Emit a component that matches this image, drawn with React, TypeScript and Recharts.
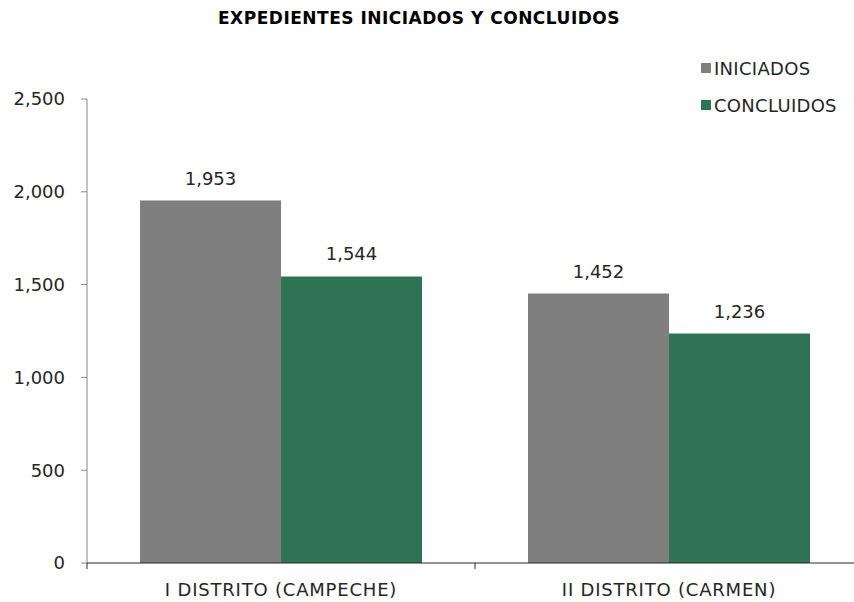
import { BarChart, Bar, XAxis, YAxis, LabelList } from 'recharts';

const categories = ['I DISTRITO (CAMPECHE)', 'II DISTRITO (CARMEN)'];
const iniciados = [1953, 1452];
const concluidos = [1544, 1236];
const yTicks = [0, 500, 1000, 1500, 2000, 2500];

const SERIES = [
  { key: 'iniciados', name: 'INICIADOS', color: '#7f7f7f' },
  { key: 'concluidos', name: 'CONCLUIDOS', color: '#2e7353' },
];

const data = categories.map((name, i) => ({
  name,
  iniciados: iniciados[i],
  concluidos: concluidos[i],
}));

const FONT = '"DejaVu Sans", sans-serif';
const fmt = (v: number) => v.toLocaleString('en-US');

// label in the middle of the band, tick line on the left edge of the band
const CategoryTick = (props: any) => {
  const { x, y, payload } = props;
  const half = payload?.offset ?? 194;
  return (
    <g>
      <line x1={x - half} x2={x - half} y1={y} y2={y + 6} stroke="#262626" />
      <text x={x} y={y + 33} textAnchor="middle" fill="#262626" fontSize={18} letterSpacing={0.8} fontFamily={FONT}>
        {payload.value}
      </text>
    </g>
  );
};

export default function App() {
  return (
    <div style={{ position: 'absolute', left: 0, top: 0, width: 854, height: 602, overflow: 'hidden', background: '#fff', fontFamily: FONT }}>
      <div style={{ position: 'absolute', left: 0, width: 838, top: 8, textAlign: 'center', fontWeight: 'bold', fontSize: 17, letterSpacing: 0.5, color: '#000' }}>
        EXPEDIENTES INICIADOS Y CONCLUIDOS
      </div>

      <div style={{ position: 'absolute', left: 701, top: 57, fontSize: 18, color: '#262626' }}>
        {SERIES.map((s, i) => (
          <div key={s.key} style={{ display: 'flex', alignItems: 'center', height: 22, marginBottom: i === 0 ? 15 : 0 }}>
            <span style={{ width: 10, height: 10, background: s.color, display: 'inline-block', marginRight: 3 }} />
            <span style={{ letterSpacing: 0.3 }}>{s.name}</span>
          </div>
        ))}
      </div>

      <BarChart
        width={870}
        height={602}
        data={data}
        margin={{ top: 99, right: 7, bottom: 0, left: 0 }}
        barCategoryGap={53}
        barGap={0}
        style={{ position: 'absolute', left: 0, top: 0 }}
      >
        <YAxis
          width={87}
          domain={[0, 2500]}
          ticks={yTicks}
          tickFormatter={fmt}
          axisLine={{ stroke: '#868686' }}
          tickLine={{ stroke: '#868686' }}
          tickSize={6}
          tickMargin={16}
          tick={{ fill: '#262626', fontSize: 18, fontFamily: FONT }}
        />
        <XAxis
          dataKey="name"
          height={39}
          axisLine={{ stroke: '#262626' }}
          tickLine={false}
          tickSize={0}
          tickMargin={0}
          tick={<CategoryTick />}
          interval={0}
        />
        {SERIES.map(s => (
          <Bar key={s.key} dataKey={s.key} name={s.name} fill={s.color} isAnimationActive={false}>
            <LabelList
              dataKey={s.key}
              position="top"
              offset={16}
              formatter={(v: any) => fmt(Number(v))}
              fill="#262626"
              fontSize={18}
              fontFamily={FONT}
            />
          </Bar>
        ))}
      </BarChart>
    </div>
  );
}
